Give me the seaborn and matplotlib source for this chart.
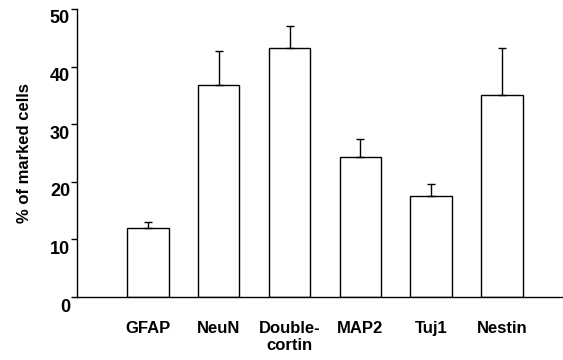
import numpy as np
import matplotlib
matplotlib.use("Agg")
import matplotlib.pyplot as plt
import matplotlib.transforms as mtransforms
import seaborn as sns

categories = ["GFAP", "NeuN", "Double-\ncortin", "MAP2", "Tuj1", "Nestin"]
values = [11.9, 36.8, 43.3, 24.3, 17.5, 35.1]
err_upper = [1.2, 5.9, 3.7, 3.2, 2.1, 8.2]
yticks = [0, 10, 20, 30, 40, 50]

sns.set_style("ticks")
plt.rcParams['font.family'] = ['Liberation Sans', 'DejaVu Sans']
plt.rcParams['font.weight'] = 'bold'
plt.rcParams['text.color'] = 'black'
plt.rcParams['xtick.color'] = 'black'
plt.rcParams['ytick.color'] = 'black'
plt.rcParams['axes.labelcolor'] = 'black'

fig = plt.figure(figsize=(5.63, 3.6), dpi=100)
ax = fig.add_axes([77/563, 1 - 297/360, 1 - 77/563, 288/360])

sns.barplot(x=categories, y=values, color="white", saturation=1,
            edgecolor="black", linewidth=1.0, width=0.587, ax=ax)
ax.errorbar(np.arange(len(values)), values,
            yerr=[np.zeros(len(values)), err_upper],
            fmt="none", ecolor="black", elinewidth=1.0, capsize=3, capthick=1.0, zorder=3)

ax.set_xlim(-1.0, 5.86)
ax.set_ylim(0, 50)
ax.set_yticks(yticks)
ax.set_yticklabels([str(t) for t in yticks], fontsize=13, fontweight='bold', color='black')
ax.tick_params(axis='y', length=4, width=1.0, pad=1, colors='black')
ax.tick_params(axis='x', length=0, pad=17, labelsize=12, colors='black')
for lab in ax.get_xticklabels():
    lab.set_fontweight('bold')
    lab.set_color('black')
offset = mtransforms.ScaledTranslation(0, -0.08, fig.dpi_scale_trans)
for lab in ax.get_yticklabels():
    lab.set_transform(lab.get_transform() + offset)

ax.set_xlabel("")
ax.set_ylabel("% of marked cells", fontsize=12, fontweight='bold', labelpad=13, color='black')

for s in ["top", "right"]:
    ax.spines[s].set_visible(False)
for s in ["left", "bottom"]:
    ax.spines[s].set_linewidth(1.0)
    ax.spines[s].set_color("black")

fig.savefig("out.png", dpi=100, facecolor="white")
